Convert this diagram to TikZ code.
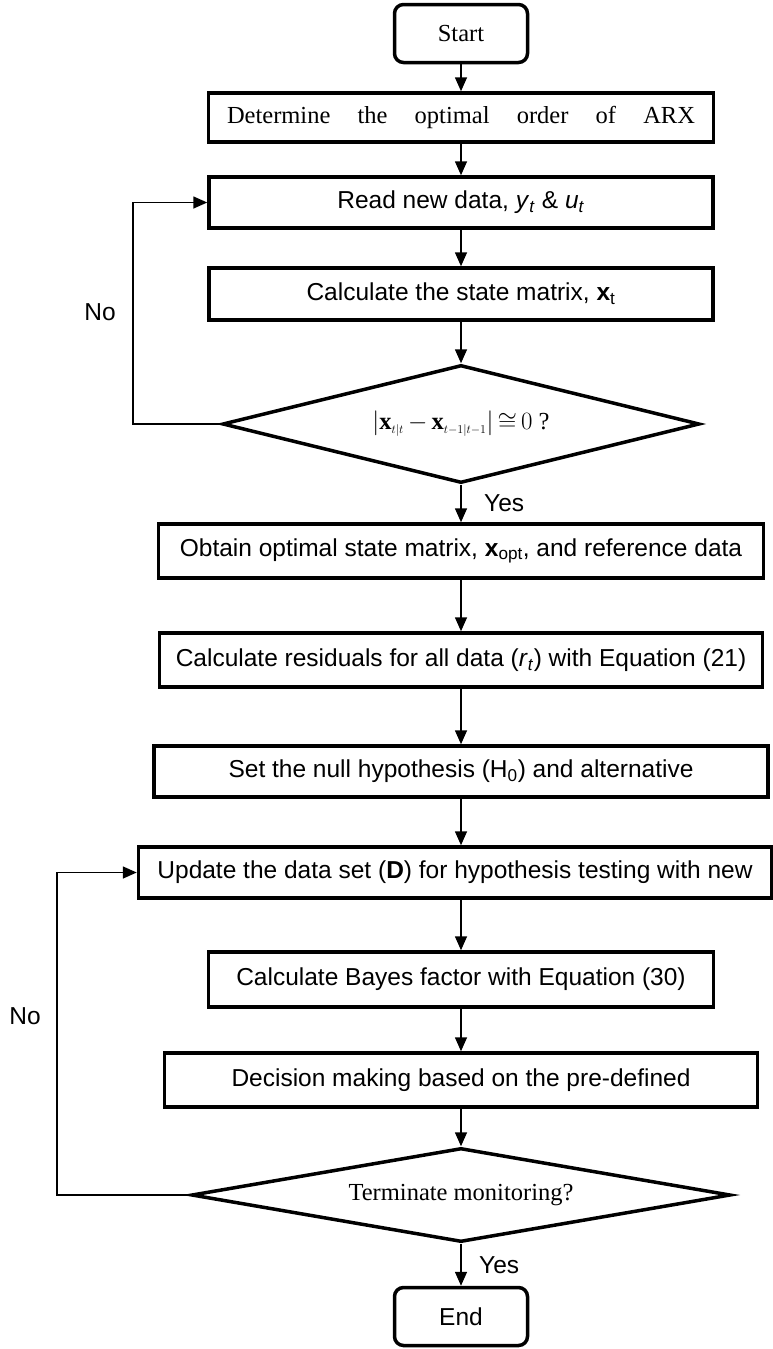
\documentclass[tikz,border=0pt]{standalone}
\usepackage{fontspec}
\setmainfont{Liberation Serif}
\setsansfont{Liberation Sans}
\usetikzlibrary{arrows.meta}
\usetikzlibrary{shapes.geometric}

\begin{document}
\begin{tikzpicture}[x=1pt,y=1pt]
        \tikzset{
          >={Triangle[length=14pt,width=12pt]},
          procbox/.style={
            draw,
            line width=3.5pt,
            inner sep=0pt,
            font=\sffamily\fontsize{24.5}{28}\selectfont,
          },
          termbox/.style={
            procbox,
            rounded corners=9pt,
            minimum width=133pt,
            minimum height=58pt,
          },
          decision/.style={
            draw,
            diamond,
            aspect=4,
            line width=3.5pt,
            inner sep=0pt,
            font=\rmfamily\fontsize{24.5}{28}\selectfont,
          },
          flow/.style={->, line width=1.6pt},
          lbl/.style={font=\sffamily\fontsize{24.5}{28}\selectfont},
        }
        \useasboundingbox (0,0) rectangle (773,-1349);

        \node[termbox, font=\rmfamily\fontsize{24.5}{28}\selectfont] (start) at (461,-33.5) {Start};
        \node[procbox, font=\rmfamily\fontsize{24.5}{28}\selectfont, minimum width=505pt, minimum height=49pt] (det) at (461,-117.5)
          {\makebox[468pt][s]{Determine the optimal order of ARX}};
        \node[procbox, minimum width=504pt, minimum height=51pt] (read) at (461,-202.5)
          {Read new data, \textit{y}\textsubscript{\textit{t}} \& \textit{u}\textsubscript{\textit{t}}};
        \node[procbox, minimum width=504pt, minimum height=52pt] (calc) at (461,-294)
          {Calculate the state matrix, \textbf{x}\textsubscript{t}};
        \node[decision, minimum width=477pt, minimum height=118pt] (conv) at (461,-424)
          {$\left|\mathbf{x}_{\scriptscriptstyle t|t}\,{-}\,\mathbf{x}_{\scriptscriptstyle t-1|t-1}\right|{\cong}\,0$ ?};
        \node[procbox, minimum width=605pt, minimum height=54pt] (opt) at (461,-551)
          {Obtain optimal state matrix, \textbf{x}\textsubscript{opt}, and reference data};
        \node[procbox, minimum width=603pt, minimum height=54pt] (res) at (461,-660)
          {Calculate residuals for all data (\textit{r}\textsubscript{\textit{t}}) with Equation (21)};
        \node[procbox, minimum width=614pt, minimum height=51pt] (hyp) at (461,-771.5)
          {Set the null hypothesis (H\textsubscript{0}) and alternative};
        \node[procbox, minimum width=633pt, minimum height=51pt] (upd) at (455,-872.5)
          {Update the data set (\textbf{D}) for hypothesis testing with new};
        \node[procbox, minimum width=505pt, minimum height=55pt] (bf) at (461,-979.5)
          {Calculate Bayes factor with Equation (30)};
        \node[procbox, minimum width=593pt, minimum height=54pt] (dm) at (461,-1080)
          {Decision making based on the pre-defined};
        \node[decision, minimum width=539pt, minimum height=94pt] (term) at (461,-1195)
          {Terminate monitoring?};
        \node[termbox] (stop) at (461,-1316.5) {End};

        \coordinate (loopA) at (133,-300);
        \coordinate (loopB) at (57,-1000);
        \node[lbl] (noA) at (100,-312) {No};
        \node[lbl] (noB) at (25,-1016) {No};

        \draw[flow] (start) -- (det);
        \draw[flow] (det) -- (read);
        \draw[flow] (read) -- (calc);
        \draw[flow] (calc) -- (conv);
        \draw[flow] (conv) -- node[lbl, right=19pt] {Yes} (opt);
        \draw[flow] (opt) -- (res);
        \draw[flow] (res) -- (hyp);
        \draw[flow] (hyp) -- (hyp |- upd.north);
        \draw[flow] (upd.south -| bf) -- (bf);
        \draw[flow] (bf) -- (dm);
        \draw[flow] (dm) -- (term);
        \draw[flow] (term) -- node[lbl, right=14pt] {Yes} (stop);
        \draw[flow] (conv.west) -| (loopA) |- (read.west);
        \draw[flow] (term.west) -| (loopB) |- (upd.west);
      \end{tikzpicture}
\end{document}
